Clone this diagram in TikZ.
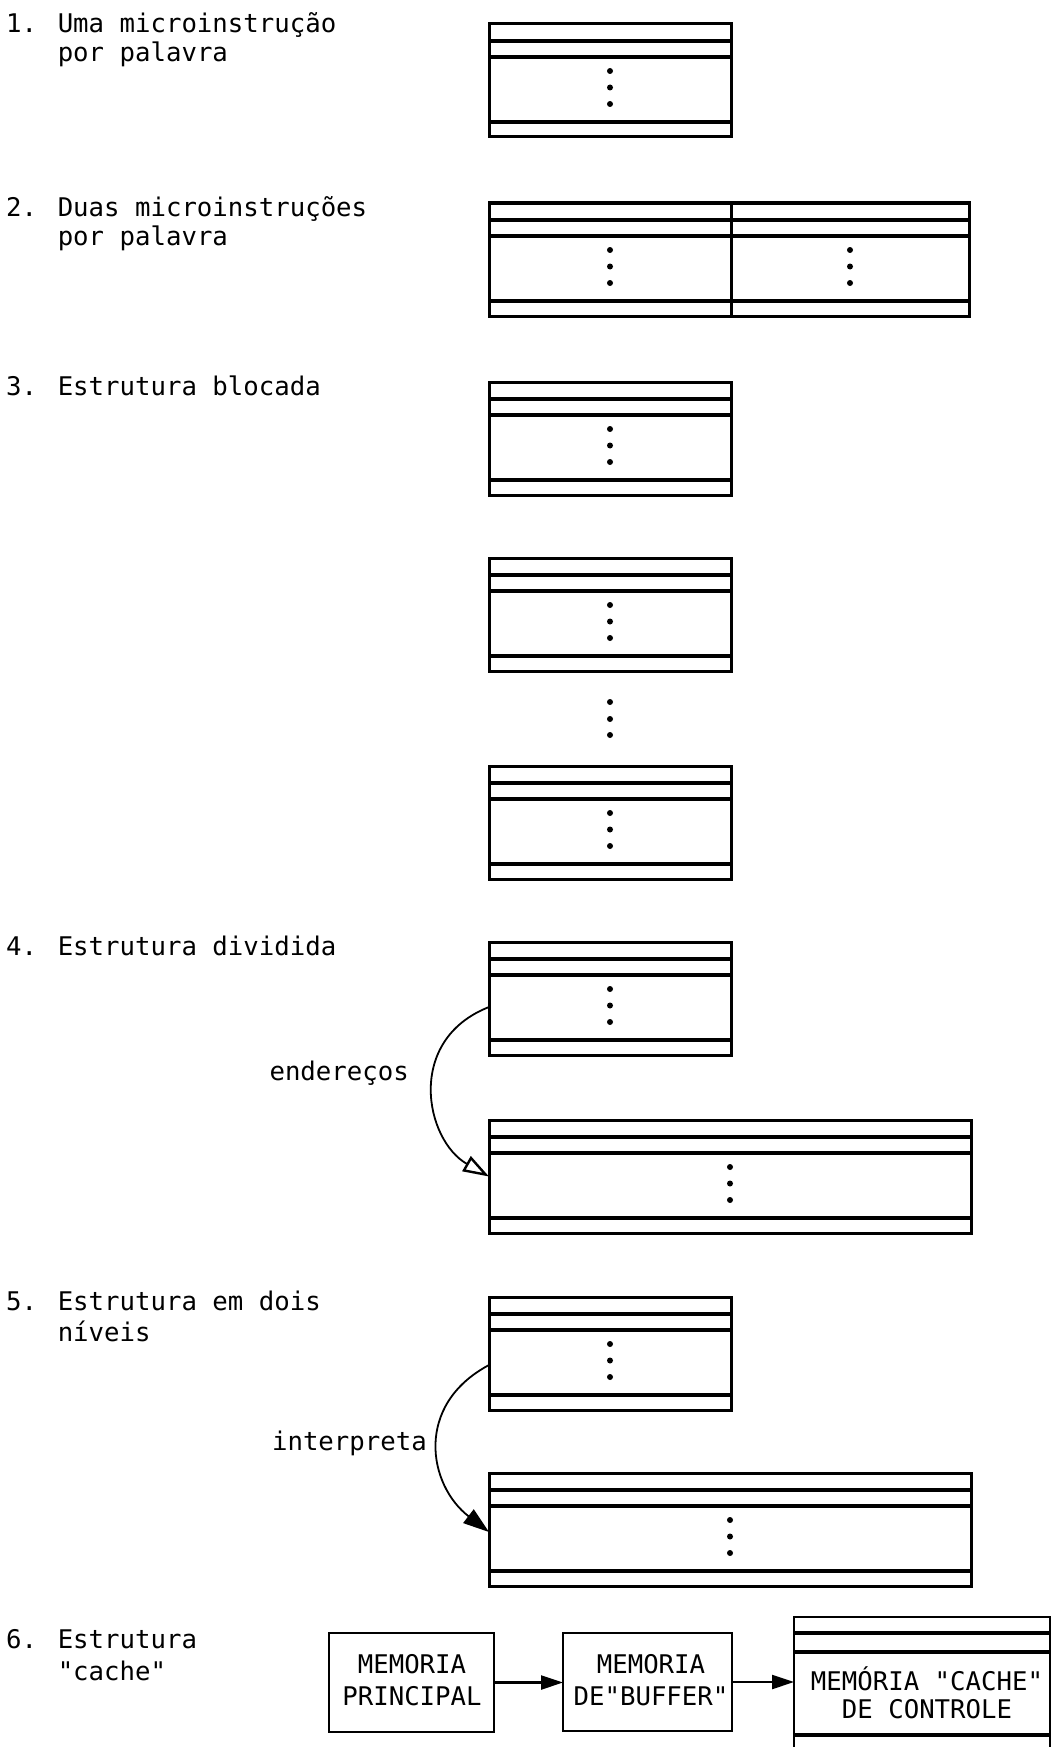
\documentclass[tikz,border=0pt]{standalone}
\usepackage{fontspec}
\newfontfamily\typew{DejaVu Sans Mono}
\usetikzlibrary{arrows.meta,calc}
\newcommand\mytxt{\typew\fontsize{25.7pt}{30pt}\selectfont}
\begin{document}
\begin{tikzpicture}[x=1pt,y=-1pt,
  title/.style={anchor=base west, inner sep=0pt, font=\mytxt},
  label/.style={anchor=base east, inner sep=0pt, font=\mytxt},
  boxtxt/.style={font=\mytxt, align=center, inner sep=0pt},
  membox/.style={draw, line width=3pt, minimum height=113pt, inner sep=0pt, outer sep=0pt,
    path picture={
      \foreach \d in {17,33,98}{
        \draw[line width=3.2pt] ([yshift=-\d]path picture bounding box.north west) -- ([yshift=-\d]path picture bounding box.north east);}
      \foreach \d in {47,63.5,80}{
        \fill ([yshift=-\d]path picture bounding box.north) circle[radius=3pt];}
    }},
  narrow/.style={membox, minimum width=242pt},
  wide/.style={membox, minimum width=482pt},
  flowbox/.style={draw, line width=2.8pt, inner sep=0pt, outer sep=0pt},
  curvearrow/.style={line width=1.8pt},
  flowarrow/.style={line width=2.4pt, -{Triangle[length=22pt,width=14pt]}},
  dot/.style={circle, fill, inner sep=0pt, minimum size=6pt}
]
\useasboundingbox (0,0) rectangle (1054,1747);
\fill[white] (0,0) rectangle (1054,1747);

% titles
\node[title] (t1a) at (6,33) {1. Uma microinstrução};
\node[title] (t1b) at (6,62) {\hphantom{1. }por palavra};
\node[title] (t2a) at (6,216) {2. Duas microinstruções};
\node[title] (t2b) at (6,245) {\hphantom{2. }por palavra};
\node[title] (t3) at (6,395) {3. Estrutura blocada};
\node[title] (t4) at (6,955) {4. Estrutura dividida};
\node[title] (t5a) at (6,1310) {5. Estrutura em dois};
\node[title] (t5b) at (6,1341) {\hphantom{5. }níveis};
\node[title] (t6a) at (6,1648) {6. Estrutura};
\node[title] (t6b) at (6,1680) {\hphantom{6. }"cache"};

% 1
\node[narrow] (b1) at (610,80.5) {};
% 2
\node[narrow] (b2l) at (610,259.5) {};
\node[membox, minimum width=238pt] (b2r) at (850,259.5) {};
% 3
\node[narrow] (b3a) at (610,438.5) {};
\node[narrow] (b3b) at (610,614.5) {};
\node[dot] (d1) at (610,702) {};
\node[dot] (d2) at (610,719) {};
\node[dot] (d3) at (610,735) {};
\node[narrow] (b3c) at (610,822.5) {};
% 4
\node[narrow] (b4a) at (610,998.5) {};
\node[wide] (b4b) at (730,1176.5) {};
\node[label] (l4) at (409,1080) {endereços};
\draw[curvearrow, -{Triangle[open,length=26pt,width=17pt,line width=2.4pt]}]
  ([yshift=-8.5]b4a.west) .. controls ($([yshift=-8.5]b4a.west)+(-84,33)$) and ($(b4b.west)+(-64,-36.5)$) .. (b4b.west);
% 5
\node[narrow] (b5a) at (610,1353.5) {};
\node[wide] (b5b) at (730,1529.5) {};
\node[label] (l5) at (427,1450) {interpreta};
\draw[curvearrow, -{Triangle[length=26pt,width=17pt]}]
  ([yshift=-11.5]b5a.west) .. controls ($([yshift=-11.5]b5a.west)+(-75,40)$) and ($([yshift=-2.5]b5b.west)+(-61,-47)$) .. ([yshift=-2.5]b5b.west);
% 6
\node[flowbox, minimum width=165pt, minimum height=99pt] (mp) at (411.5,1682.5) {};
\node[boxtxt] (mptxt) at (412,1680) {MEMORIA\\[2pt]PRINCIPAL};
\node[flowbox, minimum width=169pt, minimum height=98pt] (mb) at (647.5,1682) {};
\node[boxtxt] (mbtxt) at (651,1680) {MEMORIA\\[2pt]DE"BUFFER"};
\begin{scope}
\clip (0,0) rectangle (1054,1747);
\node[flowbox, minimum width=256pt, minimum height=150pt,
  path picture={
    \foreach \d in {16,35,118}{
      \draw[line width=3.2pt] ([yshift=-\d]path picture bounding box.north west) -- ([yshift=-\d]path picture bounding box.north east);}
  }] (mc) at (922,1692) {};
\end{scope}
\node[boxtxt] (mctxt) at (927,1693) {MEMÓRIA "CACHE"\\[-2pt]DE CONTROLE};
\draw[flowarrow] (mp.east) -- (mp.east -| mb.west);
\draw[flowarrow] (mb.east) -- (mb.east -| mc.west);
\end{tikzpicture}
\end{document}
